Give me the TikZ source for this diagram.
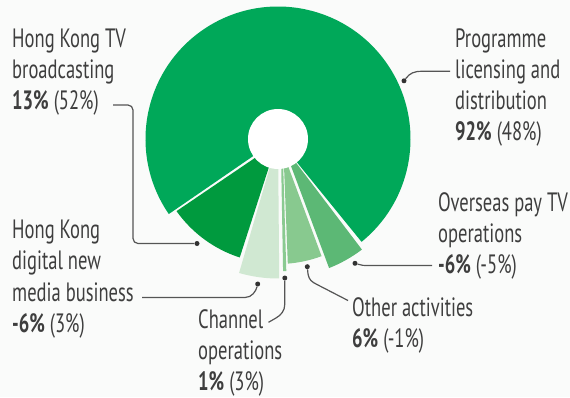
\documentclass[tikz,border=0pt]{standalone}
\usepackage{fontspec}
\setmainfont{PT Sans}[FakeStretch=0.7]
\usetikzlibrary{calc}
\definecolor{bgc}{RGB}{250,251,250}
\definecolor{gbig}{RGB}{0,168,89}
\definecolor{gtv}{RGB}{0,154,62}
\definecolor{gnew}{RGB}{208,232,210}
\definecolor{gch}{RGB}{138,202,145}
\definecolor{goth}{RGB}{136,201,143}
\definecolor{gover}{RGB}{92,184,117}
\definecolor{txt}{RGB}{62,62,62}
\definecolor{lnc}{RGB}{85,85,85}
\definecolor{dotc}{RGB}{50,50,50}
\tikzset{
  lbl/.style={anchor=base west, inner sep=0pt, text=txt, font=\fontsize{26.5}{31.3}\selectfont},
  conn/.style={draw=lnc, line width=1.2pt},
  dotn/.style={circle, fill=dotc, inner sep=0pt, minimum size=5pt},
}
\newcommand{\lblines}[1]{\parbox[t]{150pt}{\raggedright #1}}
\begin{document}
\begin{tikzpicture}[x=1pt,y=-1pt]
\fill[bgc] (0,0) rectangle (570,397);
\useasboundingbox (0,0) rectangle (570,397);
\coordinate (C) at (278,139);
% slices
\fill[gbig] (C) -- ($(C)+(145.5:132.5)$) arc[start angle=145.5,end angle=410.9,radius=132.5] -- cycle;
\fill[gtv] (256.3,157) -- ($(C)+(144.6:124.5)$) arc[start angle=144.6,end angle=107.9,radius=124.5] -- ($(C)+(107.9:28)$) -- cycle;
\fill[gnew] ($(C)+(106.2:28)$) -- ($(C)+(106.2:139.5)$) arc[start angle=106.2,end angle=89.5,radius=139.5] -- ($(C)+(89.5:28)$) -- cycle;
\fill[gch] (281.2,166) -- ($(C)+(87.8:132.3)$) arc[start angle=87.8,end angle=86.4,radius=132.3] -- (283.2,166) -- cycle;
\fill[goth] (284,166) -- ($(C)+(85.5:125)$) arc[start angle=85.5,end angle=69.6,radius=125] -- ($(C)+(69.6:27)$) -- cycle;
\fill[gover] (291,166) -- ($(C)+(68.4:138.8)$) arc[start angle=68.4,end angle=52.8,radius=138.8] -- ($(C)+(52.8:27)$) -- cycle;
\fill[white] (C) circle[radius=30];
% labels
\node[lbl] (ltv) at (12,47) {\lblines{Hong Kong TV\\broadcasting\\\textbf{13\%} (52\%)}};
\node[lbl] (lnew) at (12,238.5) {\lblines{Hong Kong\\digital new\\media business\\\textbf{-6\%} (3\%)}};
\node[lbl] (lprog) at (455,47) {\lblines{Programme\\licensing and\\distribution\\\textbf{92\%} (48\%)}};
\node[lbl] (lover) at (438,211) {\lblines{Overseas pay TV\\operations\\\textbf{-6\%} (-5\%)}};
\node[lbl] (loth) at (352,316.5) {\lblines{Other activities\\\textbf{6\%} (-1\%)}};
\node[lbl] (lch) at (198,328) {\lblines{Channel\\operations\\\textbf{1\%} (3\%)}};
% dots
\node[dotn] (dtv) at (197,243.5) {};
\node[dotn] (dnew) at (257.7,284) {};
\node[dotn] (dch) at (284.8,278) {};
\node[dotn] (doth) at (307.3,266.7) {};
\node[dotn] (dover) at (355,263.3) {};
\node[dotn] (dprog) at (404,80.8) {};
% connector ends
\coordinate (ctv) at (113,105);
\coordinate (cnew) at (142,297.5);
\coordinate (cch) at (268.5,322.3);
\coordinate (coth) at (348,300.5);
\coordinate (cover) at (432,265.5);
\coordinate (cprog) at (450,71.3);
% connectors
\draw[conn, rounded corners=5pt] (ctv) -- (133,105) -- (133,243.5) -- (dtv);
\draw[conn] (cnew) -- (245,297.5) .. controls (252,297.5) and (256,291) .. (dnew);
\draw[conn] (dch) -- (284.8,304) .. controls (284.8,311) and (281,315) .. (276,318) -- (cch);
\draw[conn] (doth) -- (308,274) .. controls (309,280) and (312,282) .. (317,284.5) -- (coth);
\draw[conn] (dover) .. controls (362,265.5) .. (372,265.5) -- (cover);
\draw[conn] (dprog) .. controls (410,73) and (414,71.3) .. (422,71.3) -- (cprog);
\end{tikzpicture}
\end{document}
